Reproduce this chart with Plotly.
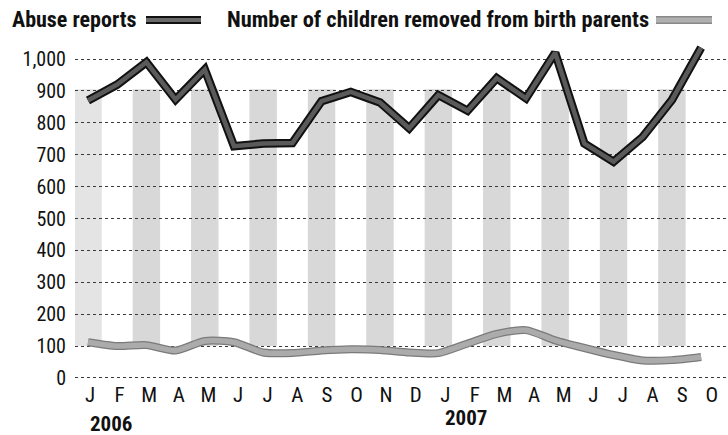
import plotly.graph_objects as go

months = ["J","F","M","A","M","J","J","A","S","O","N","D",
          "J","F","M","A","M","J","J","A","S","O"]
abuse_reports = [870, 920, 990, 873, 967, 727, 735, 737, 868, 897, 864, 783,
                 887, 838, 940, 877, 1020, 735, 678, 756, 872, 1036]
children_removed = [112, 100, 103, 86, 116, 112, 80, 78, 86, 90, 88, 80,
                    78, 108, 138, 150, 118, 94, 72, 55, 56, 66]
year_labels = ["2006", "2007"]
year_start_idx = [0, 12]
band_idx = [0, 2, 4, 6, 8, 10, 12, 14, 16, 18, 20]
band_low, band_high = 100, 905
y_ticks = list(range(0, 1001, 100))
y_ticktext = [f"{v:,}" for v in y_ticks]

x = list(range(len(months)))
FONT = "Roboto Condensed, Liberation Sans Narrow, DejaVu Sans Condensed, sans-serif"

fig = go.Figure()

# children removed: light hatched line
fig.add_trace(go.Scatter(x=x, y=children_removed, mode="lines",
                         line=dict(color="#7a7a7a", width=8, shape="spline", smoothing=0.7),
                         hoverinfo="skip", showlegend=False))
fig.add_trace(go.Scatter(x=x, y=children_removed, mode="lines",
                         line=dict(color="#ababab", width=5.5, shape="spline", smoothing=0.7),
                         name="Number of children removed from birth parents", showlegend=False))
# abuse reports: dark thick line with black edge
fig.add_trace(go.Scatter(x=x, y=abuse_reports, mode="lines",
                         line=dict(color="#111111", width=8.5),
                         hoverinfo="skip", showlegend=False))
fig.add_trace(go.Scatter(x=x, y=abuse_reports, mode="lines",
                         line=dict(color="#5a5a5a", width=4.5),
                         name="Abuse reports", showlegend=False))

shapes = []
for i in band_idx:
    shapes.append(dict(type="rect", xref="x", yref="y", x0=i - 0.47, x1=i + 0.47,
                       y0=band_low, y1=band_high, line=dict(width=0),
                       fillcolor="#d8d8d8" if i else "#e4e4e4", layer="below"))

# legend swatches (paper coords; plot area spans px 75..728 horizontally, 45..382 vertically)
W, H, L, T = 653.0, 337.0, 75.0, 45.0
def px(xp): return (xp - L) / W
def py(yp): return 1 - (yp - T) / H
shapes += [
    dict(type="line", xref="paper", yref="paper", x0=px(146), x1=px(201), y0=py(20), y1=py(20),
         line=dict(color="#111111", width=8)),
    dict(type="line", xref="paper", yref="paper", x0=px(146), x1=px(201), y0=py(20), y1=py(20),
         line=dict(color="#6a6a6a", width=4)),
    dict(type="line", xref="paper", yref="paper", x0=px(656), x1=px(712), y0=py(20), y1=py(20),
         line=dict(color="#888888", width=8)),
    dict(type="line", xref="paper", yref="paper", x0=px(656), x1=px(712), y0=py(20), y1=py(20),
         line=dict(color="#b0b0b0", width=5)),
]

annotations = [
    dict(text="<b>Abuse reports</b>", xref="paper", yref="paper", x=px(10), y=py(19),
         xanchor="left", yanchor="middle", showarrow=False,
         font=dict(family=FONT, size=22, color="#111")),
    dict(text="<b>Number of children removed from birth parents</b>", xref="paper", yref="paper",
         x=px(225), y=py(19), xanchor="left", yanchor="middle", showarrow=False,
         font=dict(family=FONT, size=22.4, color="#111")),
]
for lab, idx, sh in zip(year_labels, year_start_idx, [-42, -36]):
    annotations.append(dict(text=f"<b>{lab}</b>", xref="x2", yref="paper", x=idx, y=0,
                            xanchor="left", yanchor="middle", xshift=-2, yshift=sh,
                            showarrow=False, font=dict(family=FONT, size=21, color="#111")))

# invisible trace to anchor xaxis2 (month labels)
fig.add_trace(go.Scatter(x=x, y=[None] * len(x), xaxis="x2", mode="lines",
                         showlegend=False, hoverinfo="skip"))

fig.update_layout(
    width=728, height=435,
    margin=dict(l=75, r=0, t=45, b=53),
    paper_bgcolor="white", plot_bgcolor="white",
    showlegend=False,
    shapes=shapes, annotations=annotations,
    xaxis=dict(range=[-0.445, 21.92], showgrid=False, zeroline=False,
               showticklabels=False, ticks="", automargin=False),
    xaxis2=dict(range=[-0.507, 21.55], overlaying="x", side="bottom", anchor="free",
                position=py(380), automargin=False,
                tickmode="array", tickvals=x, ticktext=months, showgrid=False,
                zeroline=False, ticks="",
                tickfont=dict(family=FONT, size=21, color="#111")),
    yaxis=dict(range=[-12.6, 1044.1], tickmode="array", tickvals=y_ticks, ticktext=y_ticktext,
               showgrid=True, gridcolor="#3a3a3a", griddash="dot", gridwidth=1.1,
               zeroline=False, ticks="outside", ticklen=4, tickcolor="rgba(0,0,0,0)",
               automargin=False,
               tickfont=dict(family=FONT, size=20, color="#111")),
)

fig.write_html("out.html", config={"displayModeBar": False},
               post_script="document.body.style.margin='0';")
